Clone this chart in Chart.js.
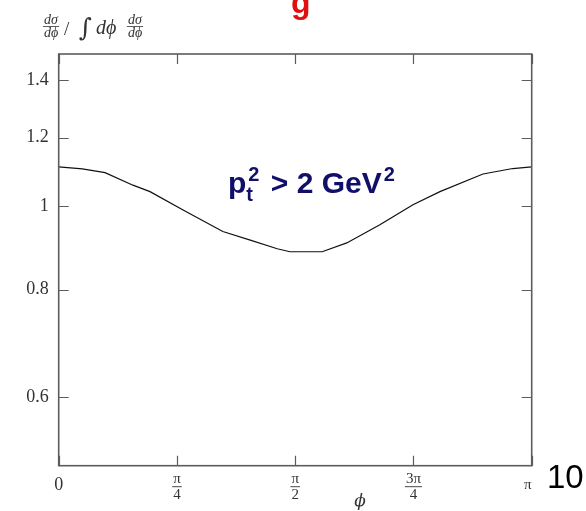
<!DOCTYPE html>
<html>
<head>
<meta charset="utf-8">
<script src="https://cdn.jsdelivr.net/npm/chart.js@4.4.1/dist/chart.umd.min.js"></script>
<style>
  html, body { margin: 0; padding: 0; background: #ffffff; }
  #wrap { width: 586px; height: 511px; position: relative; }
</style>
</head>
<body>
<div id="wrap"><canvas id="c" width="586" height="511"></canvas></div>
<script>
// azimuthal angle, in units of pi
const phiOverPi = [0, 0.05, 0.098, 0.157, 0.193, 0.263, 0.347, 0.405, 0.462, 0.489,
                   0.557, 0.609, 0.679, 0.749, 0.806, 0.897, 0.960, 1.0];
// normalised distribution (dσ/dφ) / ∫dφ (dσ/dφ)
const ratio = [1.110, 1.104, 1.093, 1.057, 1.039, 0.989, 0.934, 0.913, 0.892, 0.885,
               0.885, 0.906, 0.951, 1.003, 1.039, 1.089, 1.105, 1.110];

// axis ticks
const yTickValues = [0.6, 0.8, 1, 1.2, 1.4];
const yTickLabels = ['0.6', '0.8', '1', '1.2', '1.4'];
const xTickPos = [0, 0.25, 0.5, 0.75, 1];          // multiples of pi
const xTickNum = ['0', 'π', 'π', '3π', 'π'];
const xTickDen = ['', '4', '2', '4', ''];

const SERIF = '"Liberation Serif", "DejaVu Serif", serif';
const SANS = '"Liberation Sans", Arial, sans-serif';
const AXIS_COLOR = '#5c5c5c';

function fraction(ctx, num, den, cx, barY, size) {
  ctx.font = 'italic ' + size + 'px ' + SERIF;
  const w = Math.max(ctx.measureText(num).width, ctx.measureText(den).width) + 2;
  ctx.textAlign = 'center';
  ctx.textBaseline = 'alphabetic';
  ctx.fillText(num, cx, barY - 2.5);
  ctx.fillText(den, cx, barY + size * 0.78);
  ctx.beginPath();
  ctx.moveTo(cx - w / 2, barY);
  ctx.lineTo(cx + w / 2, barY);
  ctx.lineWidth = 0.8;
  ctx.stroke();
}

const decorations = {
  id: 'decorations',
  afterDraw(chart) {
    const { ctx, chartArea: a, scales } = chart;
    const xs = scales.x, ys = scales.y;
    ctx.save();

    // frame
    ctx.strokeStyle = AXIS_COLOR;
    ctx.lineWidth = 1.6;
    ctx.strokeRect(a.left, a.top, a.right - a.left, a.bottom - a.top);

    // inward tick marks on all four sides
    ctx.lineWidth = 1.2;
    ctx.beginPath();
    yTickValues.forEach(v => {
      const py = Math.round(ys.getPixelForValue(v)) + 0.5;
      ctx.moveTo(a.left, py); ctx.lineTo(a.left + 10, py);
      ctx.moveTo(a.right, py); ctx.lineTo(a.right - 10, py);
    });
    xTickPos.forEach(t => {
      const px = Math.round(xs.getPixelForValue(t * Math.PI)) + 0.5;
      ctx.moveTo(px, a.bottom); ctx.lineTo(px, a.bottom - 10);
      ctx.moveTo(px, a.top); ctx.lineTo(px, a.top + 10);
    });
    ctx.stroke();

    // x tick labels (fractions of pi)
    ctx.fillStyle = '#333333';
    ctx.strokeStyle = '#333333';
    xTickPos.forEach((t, i) => {
      const px = xs.getPixelForValue(t * Math.PI);
      if (xTickDen[i]) {
        ctx.font = '15px ' + SERIF;
        const w = ctx.measureText(xTickNum[i]).width + 2;
        ctx.textAlign = 'center';
        ctx.textBaseline = 'alphabetic';
        ctx.fillText(xTickNum[i], px, a.bottom + 17.5);
        ctx.fillText(xTickDen[i], px, a.bottom + 33.5);
        ctx.beginPath();
        ctx.moveTo(px - w / 2, a.bottom + 21);
        ctx.lineTo(px + w / 2, a.bottom + 21);
        ctx.lineWidth = 0.9;
        ctx.stroke();
      } else {
        const isPi = xTickNum[i] === 'π';
        ctx.font = (isPi ? 15 : 18) + 'px ' + SERIF;
        ctx.textAlign = 'center';
        ctx.textBaseline = 'middle';
        ctx.fillText(xTickNum[i], px + (isPi ? -4 : 0), a.bottom + 19.5);
      }
    });

    // x axis title
    ctx.font = 'italic 17px "DejaVu Serif", serif';
    ctx.textAlign = 'center';
    ctx.textBaseline = 'middle';
    ctx.fillText('ϕ', 360, 502);

    // y axis title: dσ/dφ / ∫ dφ dσ/dφ
    ctx.fillStyle = '#333333';
    fraction(ctx, 'dσ', 'dϕ', 51, 26.5, 14);
    ctx.font = '19px ' + SERIF;
    ctx.textAlign = 'left';
    ctx.textBaseline = 'alphabetic';
    ctx.fillText('/', 64, 35);
    ctx.font = '25px "DejaVu Serif", serif';
    ctx.fillText('∫', 79, 36);
    ctx.font = 'italic 20px ' + SERIF;
    ctx.fillText('dϕ', 96, 34);
    fraction(ctx, 'dσ', 'dϕ', 135, 26.5, 14);

    // cut annotation
    const ax = xs.getPixelForValue(0.358 * Math.PI);
    const ay = ys.getPixelForValue(1.035);
    ctx.fillStyle = '#10106a';
    ctx.textAlign = 'left';
    ctx.textBaseline = 'alphabetic';
    let cx = ax;
    ctx.font = 'bold 30px ' + SANS;
    ctx.fillText('p', cx, ay); cx += ctx.measureText('p').width;
    ctx.font = 'bold 20px ' + SANS;
    ctx.fillText('t', cx, ay + 8);
    ctx.fillText('2', cx + 2, ay - 12); cx += ctx.measureText('2').width + 5;
    ctx.font = 'bold 30px ' + SANS;
    const rest = ' > 2 GeV';
    ctx.fillText(rest, cx, ay); cx += ctx.measureText(rest).width;
    ctx.font = 'bold 20px ' + SANS;
    ctx.fillText('2', cx + 2, ay - 12);

    // page number
    ctx.fillStyle = '#000000';
    ctx.font = '33px ' + SANS;
    ctx.textAlign = 'left';
    ctx.textBaseline = 'middle';
    ctx.fillText('10', 547, 479);

    // tail of the slide heading above the plot
    ctx.fillStyle = '#e01010';
    ctx.font = 'bold 32px ' + SANS;
    ctx.textBaseline = 'alphabetic';
    ctx.fillText('g', 291, 13);

    ctx.restore();
  }
};

new Chart(document.getElementById('c'), {
  type: 'line',
  data: {
    datasets: [{
      data: phiOverPi.map((t, i) => ({ x: t * Math.PI, y: ratio[i] })),
      borderColor: '#111111',
      borderWidth: 1.2,
      pointRadius: 0,
      tension: 0,
      fill: false
    }]
  },
  options: {
    responsive: false,
    animation: false,
    events: [],
    layout: { padding: { left: 0, top: 54, right: 54.3, bottom: 0 } },
    plugins: { legend: { display: false }, tooltip: { enabled: false } },
    scales: {
      x: {
        type: 'linear',
        min: 0,
        max: Math.PI,
        grid: { display: false, drawTicks: false },
        border: { display: false },
        ticks: { display: false },
        afterBuildTicks: s => { s.ticks = xTickPos.map(t => ({ value: t * Math.PI })); },
        afterFit: s => { s.height = 45.3; }
      },
      y: {
        type: 'logarithmic',
        min: 0.5,
        max: 1.5,
        grid: { display: false, drawTicks: false },
        border: { display: false },
        afterBuildTicks: s => { s.ticks = yTickValues.map(v => ({ value: v })); },
        afterFit: s => { s.width = 58.7; },
        ticks: {
          padding: 10,
          color: '#333333',
          font: { family: SERIF, size: 18 },
          callback: (v) => {
            const i = yTickValues.indexOf(v);
            return i >= 0 ? yTickLabels[i] : '';
          }
        }
      }
    }
  },
  plugins: [decorations]
});
</script>
</body>
</html>
